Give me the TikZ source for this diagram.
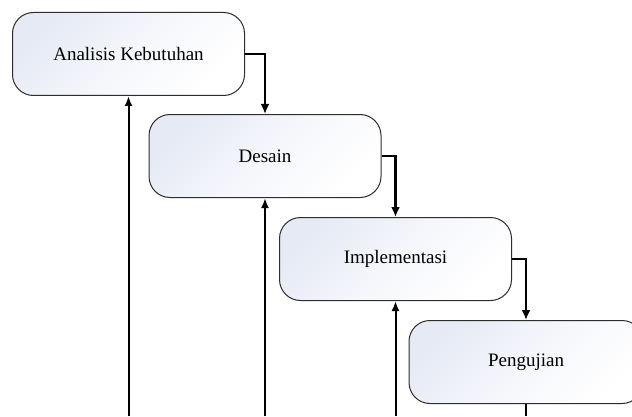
\documentclass[tikz,border=0pt]{standalone}
\usepackage{fontspec}
\setmainfont{Liberation Serif}
\usetikzlibrary{arrows.meta}
\definecolor{shadecol}{RGB}{230,234,245}
\definecolor{edgecol}{RGB}{45,45,45}
\tikzset{
  phase/.style={rectangle, rounded corners=21pt, minimum width=232pt, minimum height=83pt,
    draw=edgecol, line width=1pt, top color=shadecol, bottom color=white, middle color=white!60!shadecol, shading angle=45,
    font=\fontsize{19}{22}\selectfont, inner sep=0pt},
  fwd/.style={line width=2.8pt, -{Latex[length=10pt,width=9pt]}},
  back/.style={line width=2pt, -{Latex[length=10pt,width=8pt]}},
  plain/.style={line width=2pt}
}
\begin{document}
\begin{tikzpicture}[x=1pt,y=1pt]
\useasboundingbox (0,0) rectangle (632,416);
\clip (0,0) rectangle (632,416);
\coordinate (bot) at (0,0);
\node[phase] (b1) at (128.5,362) {Analisis Kebutuhan};
\node[phase] (b2) at (265,260) {Desain};
\node[phase] (b3) at (395.5,157) {Implementasi};
\node[phase, minimum width=234pt] (b4) at (526,54) {Pengujian};
\draw[fwd] (b1.east) -| (b2.north);
\draw[fwd] (b2.east) -| (b3.north);
\draw[fwd] (b3.east) -| (b4.north);
\coordinate (f1) at (b1.south |- bot);
\coordinate (f2) at (b2.south |- bot);
\coordinate (f3) at (b3.south |- bot);
\coordinate (f4) at (b4.south |- bot);
\draw[back] (f1) -- (b1.south);
\draw[back] (f2) -- (b2.south);
\draw[back] (f3) -- (b3.south);
\draw[plain] (b4.south) -- (f4);
\end{tikzpicture}
\end{document}
